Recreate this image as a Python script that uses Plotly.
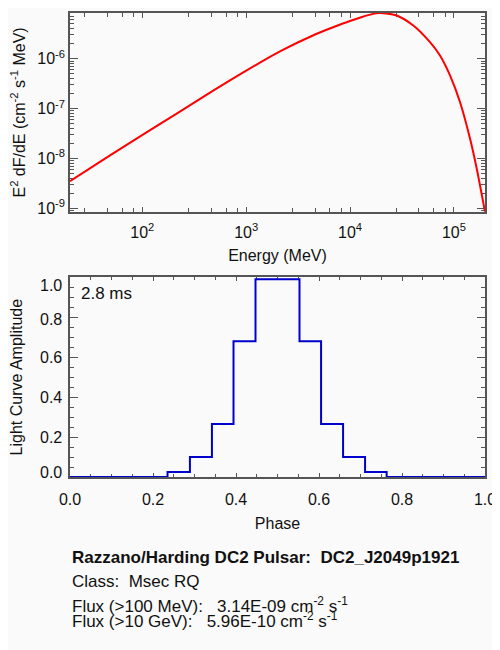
import numpy as np
import plotly.graph_objects as go
from plotly.subplots import make_subplots

# spectrum (top panel)
energy_mev = [20.15, 48.9, 98.7, 214.4, 448.4, 973.8, 2115, 4595, 7155, 9977,
              13020, 16250, 18980, 22150, 28090, 40580, 58750, 73340, 91520,
              114200, 142600, 165400, 198800]
e2dfde = [3.52e-9, 1.16e-8, 2.92e-8, 7.94e-8, 2.09e-7, 5.57e-7, 1.40e-6, 3.06e-6,
          4.43e-6, 5.70e-6, 6.86e-6, 7.83e-6, 8.24e-6, 8.09e-6, 7.35e-6, 4.63e-6,
          2.15e-6, 1.16e-6, 4.63e-7, 1.355e-7, 2.51e-8, 6.31e-9, 8.55e-10]

# light curve (bottom panel): bin edges and heights
phase = [0.0, 0.235, 0.289, 0.342, 0.394, 0.447, 0.553, 0.605, 0.658, 0.711, 0.763, 1.0]
amplitude = [0.0, 0.025, 0.10, 0.265, 0.68, 0.99, 0.68, 0.265, 0.10, 0.025, 0.0, 0.0]

energy_ticks = [1e2, 1e3, 1e4, 1e5]
energy_labels = ["10<sup>2</sup>", "10<sup>3</sup>", "10<sup>4</sup>", "10<sup>5</sup>"]
flux_ticks = [1e-9, 1e-8, 1e-7, 1e-6]
flux_labels = ["10<sup>-9</sup>", "10<sup>-8</sup>", "10<sup>-7</sup>", "10<sup>-6</sup>"]
amp_ticks = [0.0, 0.2, 0.4, 0.6, 0.8, 1.0]
amp_labels = ["0.0", "0.2", "0.4", "0.6", "0.8", "1.0"]
# IDL pulls the end labels inside the box
amp_label_shift = [5, 0, 0, 0, -2, -8]

period_label = "2.8 ms"
info_lines = [
    "<b>Razzano/Harding DC2 Pulsar:&nbsp;&nbsp;DC2_J2049p1921</b>",
    "Class:&nbsp;&nbsp;Msec RQ",
    "Flux (&gt;100 MeV):&nbsp;&nbsp;&nbsp;3.14E-09 cm<sup>-2</sup> s<sup>-1</sup>",
    "Flux (&gt;10 GeV):&nbsp;&nbsp;&nbsp;5.96E-10 cm<sup>-2</sup> s<sup>-1</sup>",
]
info_y = [-0.173, -0.2252, -0.2762, -0.3091]

# IDL style minor ticks
x_minor = [m * 10 ** e for e in range(1, 6) for m in (2.8, 4.6, 6.4, 8.2)]
y_minor = [m * 10.0 ** e for e in range(-10, -4) for m in range(2, 10)]

BG = "#fafafa"
AX = "#555555"
TXT = "#111111"

fig = make_subplots(rows=2, cols=1)

fig.add_trace(
    go.Scatter(x=energy_mev, y=e2dfde, mode="lines", line=dict(color="#ff0000", width=2, shape="spline", smoothing=0.8)),
    row=1, col=1,
)
fig.add_trace(
    go.Scatter(x=phase, y=amplitude, mode="lines", line=dict(color="#0000cc", width=2, shape="hv")),
    row=2, col=1,
)

axis_style = dict(
    showline=True, linecolor=AX, linewidth=1.5, mirror="ticks",
    ticks="inside", tickcolor=AX, tickwidth=1,
    showgrid=False, zeroline=False, automargin=False,
    ticklabeloverflow="allow",
    tickfont=dict(size=16, color=TXT),
    title_font=dict(size=16, color=TXT),
    layer="below traces",
)

fig.update_xaxes(axis_style)
fig.update_yaxes(axis_style)

fig.update_xaxes(
    type="log", range=[np.log10(energy_mev[0]), np.log10(energy_mev[-1])],
    tickvals=energy_ticks, ticktext=energy_labels, ticklen=5, ticklabelstandoff=5,
    minor=dict(tickmode="array", tickvals=x_minor, ticklen=4, ticks="inside", tickcolor=AX),
    title_text="Energy (MeV)", title_standoff=10,
    row=1, col=1,
)
fig.update_yaxes(
    type="log", range=[np.log10(min(e2dfde)), np.log10(max(e2dfde))],
    tickvals=flux_ticks, ticktext=flux_labels, ticklen=8,
    minor=dict(tickmode="array", tickvals=y_minor, ticklen=4, ticks="inside", tickcolor=AX),
    title_text="E<sup>2</sup> dF/dE (cm<sup>-2</sup> s<sup>-1</sup> MeV)", title_standoff=14,
    domain=[0.5714, 1.0],
    row=1, col=1,
)
fig.update_xaxes(
    range=[0, 1], dtick=0.2, tickformat=".1f", ticklen=4, ticklabelstandoff=7,
    minor=dict(dtick=0.05, ticklen=3, ticks="inside", tickcolor=AX),
    title_text="Phase", title_standoff=11,
    row=2, col=1,
)
fig.update_yaxes(
    range=[0, 1], tickvals=amp_ticks, ticklen=8, showticklabels=False,
    minor=dict(dtick=0.05, ticklen=4, ticks="inside", tickcolor=AX),
    title_text="Light Curve Amplitude", title_standoff=42,
    domain=[0.0, 0.4303],
    row=2, col=1,
)

for v, lab, sh in zip(amp_ticks, amp_labels, amp_label_shift):
    fig.add_annotation(
        text=lab, xref="x2 domain", yref="y2", x=0, y=v, xshift=-6, yshift=sh,
        xanchor="right", yanchor="middle", showarrow=False, font=dict(size=16, color=TXT),
    )

fig.add_annotation(
    text=period_label, xref="x2 domain", yref="y2 domain", x=0.022, y=0.92,
    xanchor="left", yanchor="middle", showarrow=False, font=dict(size=17, color=TXT),
)
for txt, yy in zip(info_lines, info_y):
    fig.add_annotation(
        text=txt, xref="paper", yref="paper", x=0.0, y=yy,
        xanchor="left", yanchor="middle", showarrow=False, font=dict(size=17, color=TXT),
    )

# the page body adds an 8px offset, margins are trimmed by that amount
fig.update_layout(
    width=500, height=650,
    margin=dict(l=62, r=23, t=4.5, b=180.7),
    paper_bgcolor=BG, plot_bgcolor=BG,
    font=dict(family="Liberation Sans, Arial, sans-serif", size=16, color=TXT),
    showlegend=False,
)

fig.write_html("out.html")
